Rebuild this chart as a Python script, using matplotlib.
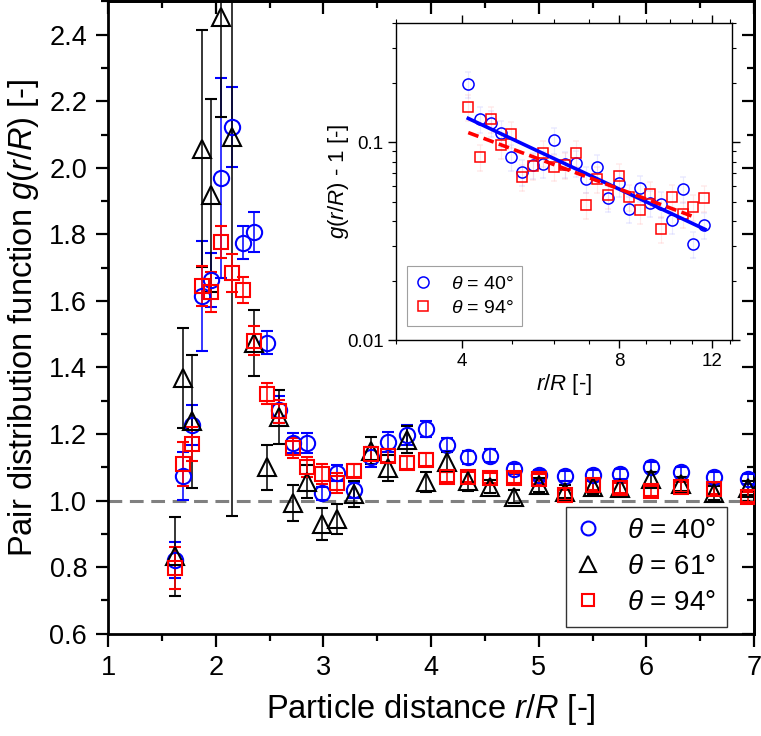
import numpy as np
import matplotlib
matplotlib.use("Agg")
import matplotlib.pyplot as plt
from matplotlib.lines import Line2D
from matplotlib.ticker import FixedLocator, NullFormatter, MultipleLocator

plt.rcParams["font.family"] = ["Liberation Sans", "DejaVu Sans"]
plt.rcParams["mathtext.fontset"] = "custom"
plt.rcParams["mathtext.rm"] = "Liberation Sans"
plt.rcParams["mathtext.it"] = "Liberation Sans:italic"

# ── main panel data ───────────────────────────────────────────────────────────
r_main = [1.62, 1.70, 1.78, 1.87, 1.96, 2.05, 2.15, 2.25, 2.355, 2.48, 2.59,
          2.72, 2.845, 2.985, 3.125, 3.28, 3.44, 3.60, 3.78, 3.95, 4.15, 4.34,
          4.55, 4.77, 5.00, 5.24, 5.50, 5.75, 6.04, 6.32, 6.63, 6.94]

g40 = [0.822, 1.074, 1.228, 1.615, 1.663, 1.970, 2.122, 1.775, 1.806, 1.475,
       1.273, 1.173, 1.173, 1.022, 1.083, 1.032, 1.132, 1.175, 1.197, 1.215,
       1.168, 1.130, 1.135, 1.095, 1.078, 1.075, 1.078, 1.080, 1.102, 1.085,
       1.072, 1.066]
e40 = [0.055, 0.073, 0.060, 0.165, 0.080, 0.300, 0.120, 0.050, 0.060, 0.035,
       0.040, 0.030, 0.030, 0.020, 0.025, 0.025, 0.030, 0.030, 0.030, 0.025,
       0.020, 0.020, 0.020, 0.015, 0.015, 0.015, 0.015, 0.015, 0.015, 0.015,
       0.015, 0.015]

g61 = [0.832, 1.368, 1.238, 2.058, 1.918, 2.454, 2.094, np.nan, 1.473, 1.100,
       1.251, 0.992, 1.057, 0.930, 0.945, 1.020, 1.150, 1.098, 1.183, 1.057,
       1.117, 1.060, 1.042, 1.012, 1.047, 1.027, 1.040, 1.038, 1.065, 1.050,
       1.023, 1.038]
e61 = [0.120, 0.150, 0.200, 0.355, 0.290, 0.300, 1.140, np.nan, 0.100, 0.068,
       0.080, 0.054, 0.050, 0.048, 0.044, 0.040, 0.040, 0.040, 0.040, 0.030,
       0.030, 0.030, 0.020, 0.020, 0.020, 0.020, 0.020, 0.020, 0.020, 0.020,
       0.020, 0.020]

g94 = [0.797, 1.110, 1.170, 1.645, 1.628, 1.776, 1.685, 1.633, 1.481, 1.321,
       1.268, 1.158, 1.102, 1.080, 1.053, 1.090, 1.140, 1.135, 1.114, 1.123,
       1.070, 1.070, 1.068, 1.068, 1.065, 1.017, 1.047, 1.038, 1.030, 1.040,
       1.035, 1.010]
e94 = [0.063, 0.067, 0.050, 0.060, 0.060, 0.048, 0.057, 0.040, 0.043, 0.032,
       0.035, 0.030, 0.030, 0.030, 0.030, 0.020, 0.020, 0.020, 0.020, 0.020,
       0.015, 0.015, 0.015, 0.015, 0.015, 0.015, 0.015, 0.015, 0.015, 0.015,
       0.015, 0.015]

# ── inset data: g - 1 on log-log axes ────────────────────────────────────────
r_inset = [4.12, 4.33, 4.55, 4.76, 4.98, 5.22, 5.47, 5.72, 6.01, 6.30, 6.61,
           6.92, 7.26, 7.60, 7.98, 8.36, 8.76, 9.16, 9.61, 10.07, 10.57, 11.07,
           11.62]
h40 = [0.197, 0.131, 0.125, 0.111, 0.0846, 0.0711, 0.0770, 0.0774, 0.1027,
       0.0774, 0.0789, 0.0652, 0.0753, 0.0525, 0.0625, 0.0460, 0.0585, 0.0491,
       0.0488, 0.0405, 0.0580, 0.0305, 0.0380]
h94 = [0.1515, 0.0840, 0.131, 0.0966, 0.110, 0.0670, 0.0762, 0.0880, 0.0753,
       0.0768, 0.0880, 0.0482, 0.0652, 0.0542, 0.0678, 0.0531, 0.0457, 0.0546,
       0.0365, 0.0531, 0.0432, 0.0473, 0.0521]

# power-law fits  g - 1 = A * (r/R)^n
fit40 = (0.768, -1.243, 4.12, 11.65)
fit94 = (0.455, -0.99, 4.12, 11.07)

BLUE = "#0000FF"
RED = "#FF0000"
BLACK = "#000000"
GRAY = "#808080"

fig = plt.figure(figsize=(7.61, 7.36), dpi=100)
ax = fig.add_axes([0.142, 0.139, 0.849, 0.859])

ax.axhline(1.0, color=GRAY, lw=2.2, ls=(0, (4.5, 2.5)), zorder=1)

common = dict(ls="none", capsize=4.5, elinewidth=1.1, capthick=1.1,
              markerfacecolor="none", markeredgewidth=1.5, zorder=3)
ax.errorbar(r_main, g40, yerr=e40, marker="o", ms=11, color=BLUE,
            ecolor=BLUE, **common)
ax.errorbar(r_main, g61, yerr=e61, marker="^", ms=13, color=BLACK,
            ecolor=BLACK, **common)
ax.errorbar(r_main, g94, yerr=e94, marker="s", ms=10, color=RED,
            ecolor=RED, **common)

ax.set_xlim(1, 7)
ax.set_ylim(0.6, 2.5)
ax.xaxis.set_major_locator(MultipleLocator(1))
ax.xaxis.set_minor_locator(MultipleLocator(0.5))
yt = np.arange(0.6, 2.41, 0.2)
ax.yaxis.set_major_locator(FixedLocator(yt))
ax.yaxis.set_minor_locator(MultipleLocator(0.1))
ax.set_yticklabels([f"{v:.1f}" for v in yt])
ax.tick_params(which="major", direction="out", length=9, width=1.6,
               labelsize=19.5, pad=6)
ax.tick_params(which="minor", direction="out", length=5, width=1.6)
for s in ax.spines.values():
    s.set_linewidth(2.0)

top = ax.secondary_xaxis("top")
top.xaxis.set_major_locator(MultipleLocator(1))
top.xaxis.set_minor_locator(MultipleLocator(0.5))
top.tick_params(which="major", direction="in", length=9, width=1.6, labeltop=False)
top.tick_params(which="minor", direction="in", length=5, width=1.6)
right = ax.secondary_yaxis("right")
right.yaxis.set_major_locator(MultipleLocator(0.2))
right.yaxis.set_minor_locator(MultipleLocator(0.1))
right.tick_params(which="major", direction="in", length=9, width=1.6, labelright=False)
right.tick_params(which="minor", direction="in", length=5, width=1.6)
for sec in (top, right):
    for s in sec.spines.values():
        s.set_linewidth(2.0)

ax.set_xlabel("Particle distance $r$/$R$ [-]", fontsize=23.5, labelpad=8)
ax.set_ylabel("Pair distribution function $g$($r$/$R$) [-]", fontsize=23.5,
              labelpad=6)

handles = [
    Line2D([], [], ls="none", marker="o", ms=10, mfc="none", mew=1.5, color=BLUE),
    Line2D([], [], ls="none", marker="^", ms=11, mfc="none", mew=1.5, color=BLACK),
    Line2D([], [], ls="none", marker="s", ms=9, mfc="none", mew=1.5, color=RED),
]
labels = [r"$\theta$ = 40°", r"$\theta$ = 61°", r"$\theta$ = 94°"]
leg = ax.legend(handles, labels, loc="lower right", bbox_to_anchor=(0.958, 0.011),
                borderaxespad=0, fontsize=20, frameon=True, fancybox=False,
                edgecolor=BLACK, handlelength=0.8, handletextpad=1.0,
                borderpad=0.4, labelspacing=0.35)
leg.get_frame().set_linewidth(1.0)

# ── inset ────────────────────────────────────────────────────────────────────
axi = fig.add_axes([0.5204, 0.538, 0.4411, 0.4303])
axi.set_xscale("log")
axi.set_yscale("log")

h40a = np.array(h40)
h94a = np.array(h94)
axi.errorbar(r_inset, h40, yerr=0.15 * h40a, ls="none", marker="o", ms=8,
             markerfacecolor="none", markeredgewidth=1.1, color=BLUE,
             ecolor=(0.6, 0.6, 1.0, 0.2), elinewidth=0.8, capsize=2, zorder=3)
axi.errorbar(r_inset, h94, yerr=0.15 * h94a, ls="none", marker="s", ms=7.5,
             markerfacecolor="none", markeredgewidth=1.1, color=RED,
             ecolor=(1.0, 0.6, 0.6, 0.2), elinewidth=0.8, capsize=2, zorder=3)

for (A, n, x0, x1), c, ls in [(fit40, BLUE, "-"), (fit94, RED, (0, (3, 1.5)))]:
    xf = np.geomspace(x0, x1, 50)
    axi.plot(xf, A * xf ** n, color=c, lw=2.6, ls=ls, zorder=4)

axi.set_xlim(3.0, 13.1)
axi.set_ylim(0.01, 0.4)
axi.xaxis.set_major_locator(FixedLocator([4, 8, 12]))
axi.xaxis.set_minor_locator(FixedLocator([3, 5, 6, 7, 9, 10, 11, 13]))
axi.xaxis.set_minor_formatter(NullFormatter())
axi.set_xticklabels(["4", "8", "12"])
axi.yaxis.set_major_locator(FixedLocator([0.01, 0.1]))
axi.yaxis.set_minor_locator(FixedLocator([0.02, 0.03, 0.04, 0.05, 0.06, 0.07,
                                          0.08, 0.09, 0.2, 0.3, 0.4]))
axi.yaxis.set_minor_formatter(NullFormatter())
axi.set_yticklabels(["0.01", "0.1"])
axi.tick_params(which="major", direction="out", length=6, width=1.0,
                labelsize=13.5, pad=3, top=True, right=True)
axi.tick_params(which="minor", direction="out", length=3, width=0.8,
                top=True, right=True)
for s in axi.spines.values():
    s.set_linewidth(1.0)

axi.set_xlabel("$r$/$R$ [-]", fontsize=16, labelpad=2)
axi.set_ylabel("$g$($r$/$R$) - 1 [-]", fontsize=16, labelpad=-3)

hi = [
    Line2D([], [], ls="none", marker="o", ms=8, mfc="none", mew=1.1, color=BLUE),
    Line2D([], [], ls="none", marker="s", ms=7.5, mfc="none", mew=1.1, color=RED),
]
legi = axi.legend(hi, [r"$\theta$ = 40°", r"$\theta$ = 94°"], loc="lower left",
                  bbox_to_anchor=(0.032, 0.045), borderaxespad=0, fontsize=14,
                  frameon=True, fancybox=False, edgecolor="#888888",
                  handlelength=0.8, handletextpad=1.0, borderpad=0.45,
                  labelspacing=0.35)
legi.get_frame().set_linewidth(0.8)

fig.savefig("out.png", dpi=100)
